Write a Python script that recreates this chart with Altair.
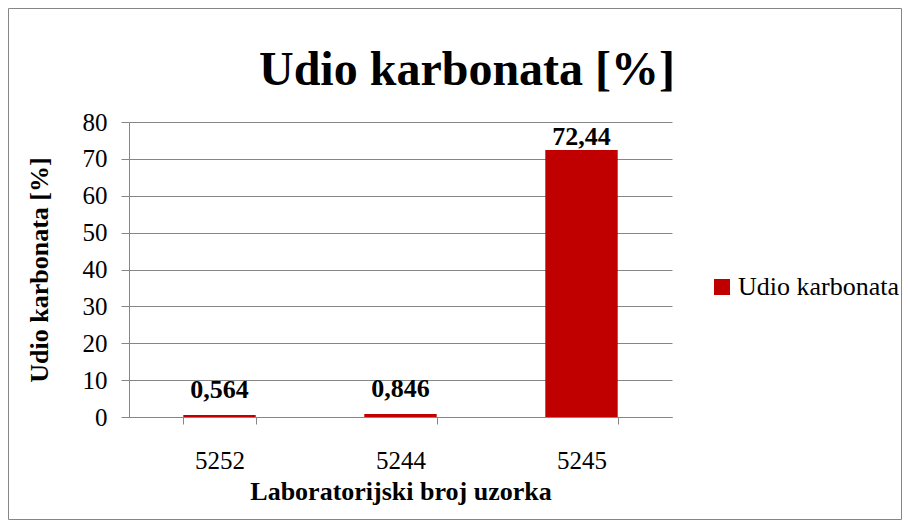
import altair as alt
import pandas as pd

# ---- data ----
samples = ["5252", "5244", "5245"]
values = [0.564, 0.846, 72.44]
value_labels = ["0,564", "0,846", "72,44"]
series_name = "Udio karbonata"
y_ticks = [0, 10, 20, 30, 40, 50, 60, 70, 80]
chart_title = "Udio karbonata [%]"

df = pd.DataFrame({
    "uzorak": samples,
    "udio": values,
    "oznaka": value_labels,
    "serija": [series_name] * len(samples),
})

FONT = "Liberation Serif"
GRAY = "#868686"
RED = "#C00000"
W, H = 543, 295

x_axis = alt.Axis(
    title="Laboratorijski broj uzorka",
    labelAngle=0,
    grid=False,
    tickBand="extent",
    tickSize=7,
    tickColor=GRAY,
    domainColor=GRAY,
    labelFont=FONT,
    labelFontSize=25,
    labelColor="black",
    labelBaseline="middle",
    labelPadding=36,
    titleFont=FONT,
    titleFontSize=26,
    titleFontWeight="bold",
    titleColor="black",
    titleBaseline="middle",
    titleY=74,
)

y_axis = alt.Axis(
    values=y_ticks,
    labelOverlap=False,
    title="Udio karbonata [%]",
    grid=True,
    gridColor=GRAY,
    domainColor=GRAY,
    tickColor=GRAY,
    tickSize=8,
    labelFont=FONT,
    labelFontSize=25,
    labelColor="black",
    labelPadding=14,
    titleFont=FONT,
    titleFontSize=26,
    titleFontWeight="bold",
    titleColor="black",
    titleAngle=270,
    titleAlign="center",
    titleBaseline="middle",
    titleX=-90,
    titleY=H / 2,
)

x_scale = alt.Scale(paddingInner=0.6, paddingOuter=0.3)
y_scale = alt.Scale(domain=[0, 80])

base = alt.Chart(df)

bars = base.mark_bar().encode(
    x=alt.X("uzorak:N", sort=samples, scale=x_scale, axis=x_axis),
    y=alt.Y("udio:Q", scale=y_scale, axis=y_axis),
    color=alt.Color(
        "serija:N",
        scale=alt.Scale(range=[RED]),
        legend=alt.Legend(
            title=None,
            orient="none",
            legendX=580,
            legendY=152,
            symbolType="square",
            symbolSize=256,
            symbolStrokeWidth=0,
            labelFont=FONT,
            labelFontSize=26,
            labelColor="black",
            labelOffset=3,
            labelLimit=0,
            padding=0,
        ),
    ),
)

labels = base.transform_calculate(
    label_y="min(datum.udio, 69.2)"
).mark_text(
    font=FONT, fontSize=26, fontWeight="bold", color="black",
    baseline="middle", dy=-25,
).encode(
    x=alt.X("uzorak:N", sort=samples, scale=x_scale, axis=x_axis),
    y=alt.Y("label_y:Q", scale=y_scale, axis=y_axis),
    text="oznaka:N",
)

title_mark = alt.Chart(alt.Data(values=[{"t": chart_title}])).mark_text(
    font=FONT, fontSize=48, fontWeight="bold", color="black",
    align="center", baseline="alphabetic",
).encode(
    x=alt.value(338), y=alt.value(-37), text="t:N",
)

border = alt.Chart(alt.Data(values=[{}])).mark_rect(
    fillOpacity=0, stroke=GRAY, strokeWidth=1
).encode(
    x=alt.value(-120.5), x2=alt.value(772.5),
    y=alt.value(-113.5), y2=alt.value(397.5),
)

chart = alt.layer(border, bars, labels, title_mark).properties(
    width=W,
    height=H,
    autosize=alt.AutoSizeParams(type="none"),
    padding={"left": 121, "top": 114, "right": 230, "bottom": 103},
).configure(font=FONT).configure_view(stroke=None).configure_axis(
    labelFont=FONT, titleFont=FONT
).configure_legend(
    labelFont=FONT, labelLimit=0
).configure_text(font=FONT)

chart.save("out.html", embed_options={"renderer": "svg", "actions": False})
